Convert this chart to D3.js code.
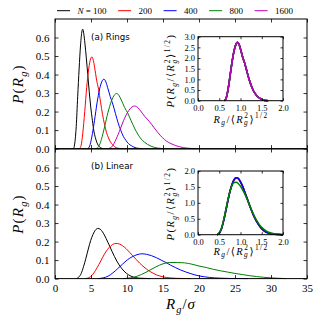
<!DOCTYPE html>
<html>
<head>
<meta charset="utf-8">
<script src="https://cdn.jsdelivr.net/npm/d3@7"></script>
<style>
  body { margin: 0; background: #fff; }
  text { fill: #000; }
</style>
</head>
<body>
<div id="chart"></div>
<script>
// Radius of gyration distributions: (a) rings, (b) linear chains

const chainLengths = [100, 200, 400, 800, 1600];
const seriesColors = ["#000000", "#ff0000", "#0000ff", "#008000", "#bf00bf"];

const xTicks = [0, 5, 10, 15, 20, 25, 30, 35];
const yTicks = [0, 0.1, 0.2, 0.3, 0.4, 0.5, 0.6];
const insetXTicks = [0, 0.5, 1.0, 1.5, 2.0];
const insetYTicksRings = [0, 0.5, 1.0, 1.5, 2.0, 2.5, 3.0];
const insetYTicksLinear = [0, 0.5, 1.0, 1.5, 2.0];

// (a) rings, P(Rg) against Rg/sigma
const ringsN100 = [[2.6,0],[2.75,0.03],[2.95,0.12],[3.15,0.28],[3.35,0.43],[3.55,0.56],[3.75,0.635],[3.85,0.645],[4.0,0.62],[4.15,0.57],[4.35,0.49],[4.55,0.40],[4.75,0.31],[4.95,0.23],[5.2,0.15],[5.4,0.095],[5.6,0.06],[5.8,0.035],[6.0,0.018],[6.3,0.006],[6.6,0]];
const ringsN200 = [[3.41,0],[3.63,0.018],[3.85,0.08],[4.13,0.2],[4.4,0.33],[4.68,0.43],[4.95,0.485],[5.12,0.495],[5.34,0.475],[5.5,0.44],[5.78,0.37],[6.05,0.32],[6.33,0.25],[6.6,0.185],[6.88,0.13],[7.15,0.087],[7.43,0.058],[7.7,0.036],[7.98,0.022],[8.25,0.011],[8.5,0.005],[9.1,0]];
const ringsN400 = [[4.53,0],[4.82,0.014],[5.11,0.062],[5.48,0.15],[5.84,0.247],[6.2,0.322],[6.57,0.367],[6.79,0.375],[7.08,0.359],[7.3,0.331],[7.67,0.281],[8.03,0.24],[8.4,0.189],[8.76,0.14],[9.13,0.099],[9.49,0.066],[9.86,0.044],[10.2,0.027],[10.6,0.016],[10.95,0.008],[11.3,0.0034],[12.0,0]];
const ringsN800 = [[5.7,0],[6.07,0.011],[6.44,0.049],[6.9,0.12],[7.36,0.196],[7.82,0.255],[8.28,0.291],[8.56,0.298],[8.92,0.285],[9.2,0.263],[9.66,0.223],[10.12,0.19],[10.58,0.15],[11.04,0.111],[11.5,0.078],[11.96,0.052],[12.42,0.035],[12.88,0.022],[13.34,0.013],[13.8,0.0065],[14.26,0.0027],[15.2,0]];
const ringsN1600 = [[7.38,0],[7.85,0.008],[8.33,0.038],[8.93,0.092],[9.52,0.151],[10.1,0.197],[10.7,0.225],[11.07,0.23],[11.54,0.22],[11.9,0.203],[12.5,0.172],[13.1,0.147],[13.7,0.116],[14.3,0.086],[14.9,0.06],[15.5,0.04],[16.1,0.027],[16.7,0.017],[17.3,0.01],[17.85,0.005],[18.45,0.0021],[19.6,0]];

// (a) inset, all chain lengths fall on one curve
const ringsScaled = [[0.62,0],[0.66,0.1],[0.70,0.45],[0.75,1.1],[0.80,1.8],[0.85,2.35],[0.90,2.68],[0.93,2.74],[0.97,2.62],[1.00,2.42],[1.05,2.05],[1.10,1.75],[1.15,1.38],[1.20,1.02],[1.25,0.72],[1.30,0.48],[1.35,0.32],[1.40,0.2],[1.45,0.12],[1.50,0.06],[1.55,0.025],[1.60,0.008],[1.65,0]];

// (b) linear chains
const linearN100 = [[2.97,0],[3.3,0.008],[3.63,0.027],[3.96,0.064],[4.29,0.109],[4.62,0.159],[4.95,0.205],[5.28,0.239],[5.61,0.262],[5.94,0.271],[6.27,0.267],[6.6,0.252],[6.93,0.23],[7.26,0.203],[7.59,0.176],[7.92,0.147],[8.25,0.12],[8.58,0.095],[8.91,0.074],[9.24,0.056],[9.57,0.041],[9.9,0.029],[10.23,0.02],[10.56,0.013],[11.22,0.005],[11.88,0.002],[13.2,0]];
const linearN200 = [[4.23,0],[4.7,0.005],[5.17,0.019],[5.64,0.045],[6.11,0.077],[6.58,0.112],[7.05,0.144],[7.52,0.168],[7.99,0.184],[8.46,0.19],[8.93,0.187],[9.4,0.177],[9.87,0.162],[10.34,0.143],[10.81,0.123],[11.28,0.103],[11.75,0.084],[12.22,0.067],[12.69,0.052],[13.16,0.039],[13.63,0.029],[14.1,0.02],[14.57,0.014],[15.04,0.009],[16.0,0.0037],[16.9,0.0013],[18.8,0]];
const linearN400 = [[6.03,0],[6.7,0.004],[7.37,0.013],[8.04,0.031],[8.71,0.054],[9.38,0.078],[10.05,0.101],[10.72,0.118],[11.39,0.129],[12.06,0.134],[12.73,0.131],[13.4,0.124],[14.07,0.113],[14.74,0.1],[15.41,0.087],[16.08,0.072],[16.75,0.059],[17.42,0.047],[18.09,0.037],[18.76,0.028],[19.43,0.02],[20.1,0.014],[20.77,0.0097],[21.44,0.0063],[22.8,0.0026],[24.1,0.0009],[26.8,0]];
const linearN800 = [[9.5,0],[10,0.002],[11,0.008],[12,0.022],[13,0.042],[14,0.063],[15,0.08],[16,0.087],[17,0.087],[18,0.085],[19,0.078],[20,0.068],[21,0.06],[22,0.05],[23,0.042],[24,0.035],[25,0.028],[26,0.022],[27,0.016],[28,0.011],[29,0.007],[30,0.004],[31,0.002],[32,0]];

// (b) inset
const linearScaled = [[0.45,0],[0.50,0.05],[0.55,0.18],[0.60,0.42],[0.65,0.72],[0.70,1.05],[0.75,1.35],[0.80,1.58],[0.85,1.73],[0.90,1.79],[0.95,1.76],[1.00,1.66],[1.05,1.52],[1.10,1.34],[1.15,1.16],[1.20,0.97],[1.25,0.79],[1.30,0.63],[1.35,0.49],[1.40,0.37],[1.45,0.27],[1.50,0.19],[1.55,0.13],[1.60,0.085],[1.70,0.035],[1.80,0.012],[1.90,0.004],[2.0,0]];
const linearScaled800 = [[0.45,0],[0.50,0.06],[0.55,0.2],[0.60,0.45],[0.65,0.76],[0.70,1.08],[0.75,1.35],[0.80,1.55],[0.85,1.64],[0.90,1.65],[0.95,1.6],[1.00,1.52],[1.05,1.41],[1.10,1.28],[1.15,1.13],[1.20,0.97],[1.25,0.81],[1.30,0.66],[1.35,0.52],[1.40,0.41],[1.45,0.31],[1.50,0.23],[1.55,0.17],[1.60,0.12],[1.70,0.06],[1.80,0.028],[1.90,0.012],[2.0,0.004]];

const ringsMain = [ringsN100, ringsN200, ringsN400, ringsN800, ringsN1600];
const ringsInset = [ringsScaled, ringsScaled, ringsScaled, ringsScaled, ringsScaled];
const linearMain = [linearN100, linearN200, linearN400, linearN800];
const linearInset = [linearScaled, linearScaled, linearScaled, linearScaled800];

const serif = "'Liberation Serif', 'DejaVu Serif', serif";
const sans = "'DejaVu Sans', sans-serif";

const width = 315, height = 319;
const svg = d3.select("#chart").append("svg")
    .attr("width", width)
    .attr("height", height);

// writes a mathtext-like label using tspans
function mathText(g, parts, size, spacing) {
    const t = g.append("text")
        .style("font-family", serif)
        .style("font-size", size + "px")
        .style("letter-spacing", (spacing || 0) + "px");
    let cur = 0;
    parts.forEach(p => {
        const target = p.s === "sub" ? 0.25 * size : p.s === "sup" ? -0.4 * size : 0;
        const ts = t.append("tspan")
            .text(p.t)
            .attr("dy", target - cur)
            .style("font-style", p.i ? "italic" : "normal")
            .style("font-size", (p.s ? size * 0.7 : size) + "px");
        if (p.dx) ts.attr("dx", p.dx * size);
        cur = target;
    });
    return t;
}

const rgNorm = [
    {t: "R", i: true}, {t: "g", i: true, s: "sub"}, {t: "/"}, {t: "\u27E8"},
    {t: "R", i: true}, {t: "g", i: true, s: "sub"}, {t: "2", s: "sup", dx: -0.45},
    {t: "\u27E9"}, {t: "1/2", s: "sup"}
];
const pNorm = [{t: "P", i: true}, {t: "("}].concat(rgNorm).concat([{t: ")"}]);

function drawAxes(g, x, y, opt) {
    const [x0, x1] = x.range();
    const [y0, y1] = y.range();
    const ts = opt.tick;

    const bottom = g.append("g").attr("transform", `translate(0,${y0})`)
        .call(d3.axisBottom(x).tickValues(opt.xTicks).tickSize(-ts)
            .tickPadding(opt.xPad)
            .tickFormat(opt.xLabels ? opt.xFormat : ""));
    const top = g.append("g").attr("transform", `translate(0,${y1})`)
        .call(d3.axisTop(x).tickValues(opt.xTicks).tickSize(-ts).tickFormat(""));
    const left = g.append("g").attr("transform", `translate(${x0},0)`)
        .call(d3.axisLeft(y).tickValues(opt.yTicks).tickSize(-ts)
            .tickPadding(opt.yPad).tickFormat(d3.format(".1f")));
    const right = g.append("g").attr("transform", `translate(${x1},0)`)
        .call(d3.axisRight(y).tickValues(opt.yTicks).tickSize(-ts).tickFormat(""));

    [bottom, top, left, right].forEach(a => {
        a.select(".domain").remove();
        a.selectAll(".tick line").attr("stroke", "#000").attr("stroke-width", 0.8);
        a.selectAll(".tick text")
            .style("font-family", serif)
            .style("font-size", opt.font + "px")
            .attr("fill", "#000");
    });

    g.append("rect")
        .attr("x", x0).attr("y", y1)
        .attr("width", x1 - x0).attr("height", y0 - y1)
        .attr("fill", "none").attr("stroke", "#000").attr("stroke-width", 1);
}

function drawCurves(g, x, y, sets, lw) {
    const line = d3.line()
        .x(d => x(d[0]))
        .y(d => y(d[1]))
        .curve(d3.curveMonotoneX);
    g.selectAll(null)
        .data(sets)
        .enter()
        .append("path")
        .attr("d", d => line(d))
        .attr("fill", "none")
        .attr("stroke", (d, i) => seriesColors[i])
        .attr("stroke-width", lw);
}

const x = d3.scaleLinear().domain([0, 35]).range([55, 307]);
const yTop = d3.scaleLinear().domain([0, 0.7]).range([148.6, 19]);
const yBot = d3.scaleLinear().domain([0, 0.7]).range([278.6, 149]);

const ix = d3.scaleLinear().domain([0, 2]).range([198, 283]);
const iyTop = d3.scaleLinear().domain([0, 3]).range([100.7, 36.7]);
const iyBot = d3.scaleLinear().domain([0, 2]).range([234.7, 171]);

// ---- main panels
const gTop = svg.append("g");
drawCurves(gTop, x, yTop, ringsMain, 1);
drawAxes(gTop, x, yTop, {xTicks, yTicks, tick: 3.5, xPad: 5.5, yPad: 5.5, font: 11, xLabels: false});

const gBot = svg.append("g");
drawCurves(gBot, x, yBot, linearMain, 1);
drawAxes(gBot, x, yBot, {xTicks, yTicks, tick: 3.5, xPad: 5.5, yPad: 5.5, font: 11,
    xLabels: true, xFormat: d3.format("d")});

// ---- insets
const gInA = svg.append("g");
gInA.append("rect").attr("x", 198).attr("y", 36.7).attr("width", 85).attr("height", 64).attr("fill", "#fff");
drawCurves(gInA, ix, iyTop, ringsInset, 1.5);
drawAxes(gInA, ix, iyTop, {xTicks: insetXTicks, yTicks: insetYTicksRings, tick: 2.5, xPad: 4.5, yPad: 3,
    font: 8.5, xLabels: true, xFormat: d3.format(".1f")});

const gInB = svg.append("g");
gInB.append("rect").attr("x", 198).attr("y", 171).attr("width", 85).attr("height", 63.7).attr("fill", "#fff");
drawCurves(gInB, ix, iyBot, linearInset, 1.5);
drawAxes(gInB, ix, iyBot, {xTicks: insetXTicks, yTicks: insetYTicksLinear, tick: 2.5, xPad: 4.5, yPad: 3,
    font: 8.5, xLabels: true, xFormat: d3.format(".1f")});

// ---- axis labels
const pRg = [{t: "P", i: true}, {t: "("}, {t: "R", i: true}, {t: "g", i: true, s: "sub"}, {t: ")"}];
mathText(svg.append("g").attr("transform", "translate(23,84) rotate(-90)"), pRg, 15, 1.2)
    .attr("text-anchor", "middle");
mathText(svg.append("g").attr("transform", "translate(23,214) rotate(-90)"), pRg, 15, 1.2)
    .attr("text-anchor", "middle");
mathText(svg.append("g").attr("transform", "translate(181,309)"),
    [{t: "R", i: true}, {t: "g", i: true, s: "sub"}, {t: "/"}, {t: "\u03C3", i: true}], 15, 1)
    .attr("text-anchor", "middle");

mathText(svg.append("g").attr("transform", "translate(241,122.5)"), rgNorm, 10.5, 1.4).attr("text-anchor", "middle");
mathText(svg.append("g").attr("transform", "translate(241,254.5)"), rgNorm, 10.5, 1.4).attr("text-anchor", "middle");
mathText(svg.append("g").attr("transform", "translate(174,70.5) rotate(-90)"), pNorm, 10.5, 1.5).attr("text-anchor", "middle");
mathText(svg.append("g").attr("transform", "translate(174,203.5) rotate(-90)"), pNorm, 10.5, 1.5).attr("text-anchor", "middle");

// ---- panel labels
svg.append("text").attr("x", 91).attr("y", 40)
    .style("font-family", sans).style("font-size", "8.7px").text("(a) Rings");
svg.append("text").attr("x", 91).attr("y", 169)
    .style("font-family", sans).style("font-size", "8.7px").text("(b) Linear");

// ---- legend
const legend = svg.append("g");
let cx = 57;
chainLengths.forEach((n, i) => {
    legend.append("line")
        .attr("x1", cx).attr("x2", cx + 13)
        .attr("y1", 10.7).attr("y2", 10.7)
        .attr("stroke", seriesColors[i]).attr("stroke-width", 1);
    const t = legend.append("text")
        .attr("x", cx + 20.5).attr("y", 13.8)
        .style("font-family", serif).style("font-size", "9px");
    if (i === 0) {
        t.append("tspan").style("font-style", "italic").text("N");
        t.append("tspan").text(" = " + n);
    } else {
        t.text(n);
    }
    cx = cx + 20.5 + t.node().getComputedTextLength() + 11.5;
});
</script>
</body>
</html>
